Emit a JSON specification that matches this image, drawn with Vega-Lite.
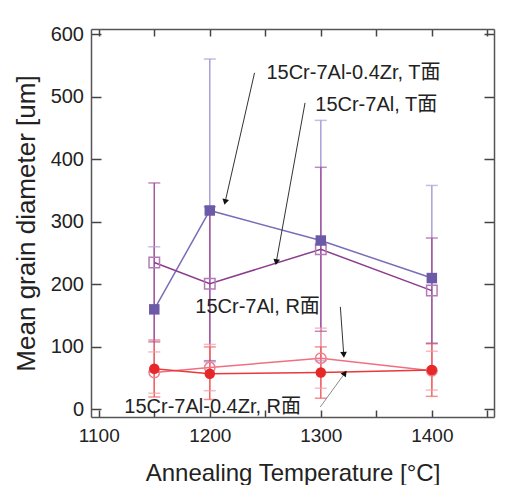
{
  "$schema": "https://vega.github.io/schema/vega-lite/v6.json",
  "width": 403,
  "height": 388,
  "autosize": {"type": "none"},
  "padding": {"left": 91, "top": 29, "right": 34, "bottom": 68},
  "background": "white",
  "config": {
    "view": {"stroke": null},
    "axis": {
      "grid": false,
      "domainColor": "#555555",
      "domainWidth": 1.5,
      "tickColor": "#444444",
      "tickWidth": 1.5,
      "labelFont": "Liberation Sans",
      "labelColor": "#222222",
      "titleFont": "Liberation Sans",
      "titleColor": "#222222",
      "titleFontWeight": "normal"
    }
  },
  "datasets": {
    "pts": [
      {"series": "A", "T": 1150, "mean": 160, "lo": 60, "hi": 260},
      {"series": "A", "T": 1200, "mean": 318, "lo": 76, "hi": 560},
      {"series": "A", "T": 1300, "mean": 270, "lo": 78, "hi": 462},
      {"series": "A", "T": 1400, "mean": 210, "lo": 62, "hi": 358},
      {"series": "B", "T": 1150, "mean": 235, "lo": 108, "hi": 362},
      {"series": "B", "T": 1200, "mean": 201, "lo": 78, "hi": 324},
      {"series": "B", "T": 1300, "mean": 256, "lo": 125, "hi": 387},
      {"series": "B", "T": 1400, "mean": 190, "lo": 106, "hi": 274},
      {"series": "C", "T": 1150, "mean": 59, "lo": 26, "hi": 92},
      {"series": "C", "T": 1200, "mean": 67, "lo": 30, "hi": 104},
      {"series": "C", "T": 1300, "mean": 82, "lo": 34, "hi": 130},
      {"series": "C", "T": 1400, "mean": 62, "lo": 31, "hi": 93},
      {"series": "D", "T": 1150, "mean": 65, "lo": 20, "hi": 111},
      {"series": "D", "T": 1200, "mean": 57, "lo": 16, "hi": 100},
      {"series": "D", "T": 1300, "mean": 59, "lo": 18, "hi": 100},
      {"series": "D", "T": 1400, "mean": 63, "lo": 21, "hi": 105}
    ],
    "notes": [
      {"label": "15Cr-7Al-0.4Zr, T面", "x": 1251, "y": 538},
      {"label": "15Cr-7Al, T面", "x": 1295, "y": 487},
      {"label": "15Cr-7Al, R面", "x": 1187, "y": 163},
      {"label": "15Cr-7Al-0.4Zr, R面", "x": 1123, "y": 4}
    ],
    "arrows": [
      {"id": 1, "x1": 1240.3, "y1": 538, "x2": 1214, "y2": 333},
      {"id": 2, "x1": 1285.8, "y1": 490, "x2": 1260, "y2": 237},
      {"id": 3, "x1": 1317.6, "y1": 164, "x2": 1320.6, "y2": 89},
      {"id": 4, "x1": 1299.5, "y1": 4, "x2": 1321.2, "y2": 57}
    ]
  },
  "resolve": {
    "scale": {"color": "independent"},
    "axis": {"x": "independent", "y": "independent"}
  },
  "layer": [
    {
      "data": {"name": "pts"},
      "mark": {"type": "rule", "strokeWidth": 1.5},
      "encoding": {
        "x": {
          "field": "T", "type": "quantitative",
          "scale": {"domain": [1093, 1456], "nice": false, "zero": false},
          "axis": {
            "orient": "bottom",
            "values": [1100, 1150, 1200, 1250, 1300, 1350, 1400, 1450],
            "format": "d",
            "labelExpr": "datum.value % 100 === 0 ? datum.label : ''",
            "tickSize": -7,
            "labelPadding": 16,
            "labelFontSize": 19,
            "title": "Annealing Temperature [°C]",
            "titleFontSize": 24,
            "titlePadding": 16
          }
        },
        "y": {
          "field": "lo", "type": "quantitative",
          "scale": {"domain": [-12, 608], "nice": false, "zero": false},
          "axis": {
            "orient": "left",
            "values": [0, 100, 200, 300, 400, 500, 600],
            "tickSize": -10,
            "labelPadding": 17.5,
            "labelFontSize": 20,
            "title": "Mean grain diameter [um]",
            "titleFontSize": 26,
            "titlePadding": 11
          }
        },
        "y2": {"field": "hi"},
        "color": {
          "field": "series", "type": "nominal", "legend": null,
          "scale": {"domain": ["A", "B", "C", "D"], "range": ["#aaa0d8", "#a4579f", "#f3a0aa", "#f06464"]}
        }
      }
    },
    {
      "data": {"name": "pts"},
      "mark": {"type": "tick", "orient": "horizontal", "size": 12, "thickness": 1.5},
      "encoding": {
        "x": {"field": "T", "type": "quantitative",
          "axis": {"orient": "top", "values": [1100, 1150, 1200, 1250, 1300, 1350, 1400, 1450], "labels": false, "tickSize": -7, "title": null}},
        "y": {"field": "hi", "type": "quantitative",
          "axis": {"orient": "right", "values": [0, 100, 200, 300, 400, 500, 600], "labels": false, "tickSize": -10, "title": null}},
        "color": {
          "field": "series", "type": "nominal", "legend": null,
          "scale": {"domain": ["A", "B", "C", "D"], "range": ["#aaa0d8", "#a4579f", "#f3a0aa", "#f06464"]}
        }
      }
    },
    {
      "data": {"name": "pts"},
      "mark": {"type": "tick", "orient": "horizontal", "size": 12, "thickness": 1.5},
      "encoding": {
        "x": {"field": "T", "type": "quantitative", "axis": null},
        "y": {"field": "lo", "type": "quantitative", "axis": null},
        "color": {
          "field": "series", "type": "nominal", "legend": null,
          "scale": {"domain": ["A", "B", "C", "D"], "range": ["#aaa0d8", "#a4579f", "#f3a0aa", "#f06464"]}
        }
      }
    },
    {
      "data": {"name": "pts"},
      "mark": {"type": "line", "strokeWidth": 1.5},
      "encoding": {
        "x": {"field": "T", "type": "quantitative", "axis": null},
        "y": {"field": "mean", "type": "quantitative", "axis": null},
        "color": {
          "field": "series", "type": "nominal", "legend": null,
          "scale": {"domain": ["A", "B", "C", "D"], "range": ["#7a6cb8", "#8b3c8c", "#f06f80", "#e83a3a"]}
        }
      }
    },
    {
      "data": {"name": "pts"},
      "transform": [{"filter": "datum.series === 'B' || datum.series === 'C'"}],
      "mark": {"type": "point", "filled": false, "strokeWidth": 1.5, "opacity": 1},
      "encoding": {
        "x": {"field": "T", "type": "quantitative", "axis": null},
        "y": {"field": "mean", "type": "quantitative", "axis": null},
        "shape": {"field": "series", "type": "nominal", "legend": null,
          "scale": {"domain": ["B", "C"], "range": ["square", "circle"]}},
        "size": {"field": "series", "type": "nominal", "legend": null,
          "scale": {"domain": ["B", "C"], "range": [110, 110]}},
        "color": {
          "field": "series", "type": "nominal", "legend": null,
          "scale": {"domain": ["B", "C"], "range": ["#b47ab8", "#f07f8f"]}
        }
      }
    },
    {
      "data": {"name": "pts"},
      "transform": [{"filter": "datum.series === 'A' || datum.series === 'D'"}],
      "mark": {"type": "point", "filled": true, "opacity": 1},
      "encoding": {
        "x": {"field": "T", "type": "quantitative", "axis": null},
        "y": {"field": "mean", "type": "quantitative", "axis": null},
        "shape": {"field": "series", "type": "nominal", "legend": null,
          "scale": {"domain": ["A", "D"], "range": ["square", "circle"]}},
        "size": {"field": "series", "type": "nominal", "legend": null,
          "scale": {"domain": ["A", "D"], "range": [125, 120]}},
        "color": {
          "field": "series", "type": "nominal", "legend": null,
          "scale": {"domain": ["A", "D"], "range": ["#6c5aa6", "#e62828"]}
        }
      }
    },
    {
      "data": {"name": "arrows"},
      "mark": {"type": "rule", "strokeWidth": 1},
      "encoding": {
        "x": {"field": "x1", "type": "quantitative", "axis": null},
        "y": {"field": "y1", "type": "quantitative", "axis": null},
        "x2": {"field": "x2"},
        "y2": {"field": "y2"},
        "color": {"field": "id", "type": "nominal", "legend": null,
          "scale": {"domain": [1, 2, 3, 4], "range": ["#333333", "#333333", "#333333", "#8a8a8a"]}}
      }
    },
    {
      "data": {"name": "arrows"},
      "transform": [{"filter": "datum.id === 1"}],
      "mark": {"type": "point", "shape": "triangle", "filled": true, "size": 45, "angle": 192.8, "color": "#111111", "opacity": 1},
      "encoding": {
        "x": {"field": "x2", "type": "quantitative", "axis": null},
        "y": {"field": "y2", "type": "quantitative", "axis": null}
      }
    },
    {
      "data": {"name": "arrows"},
      "transform": [{"filter": "datum.id === 2"}],
      "mark": {"type": "point", "shape": "triangle", "filled": true, "size": 45, "angle": 190.2, "color": "#111111", "opacity": 1},
      "encoding": {
        "x": {"field": "x2", "type": "quantitative", "axis": null},
        "y": {"field": "y2", "type": "quantitative", "axis": null}
      }
    },
    {
      "data": {"name": "arrows"},
      "transform": [{"filter": "datum.id === 3"}],
      "mark": {"type": "point", "shape": "triangle", "filled": true, "size": 45, "angle": 176, "color": "#111111", "opacity": 1},
      "encoding": {
        "x": {"field": "x2", "type": "quantitative", "axis": null},
        "y": {"field": "y2", "type": "quantitative", "axis": null}
      }
    },
    {
      "data": {"name": "arrows"},
      "transform": [{"filter": "datum.id === 4"}],
      "mark": {"type": "point", "shape": "triangle", "filled": true, "size": 45, "angle": 36.5, "color": "#111111", "opacity": 1},
      "encoding": {
        "x": {"field": "x2", "type": "quantitative", "axis": null},
        "y": {"field": "y2", "type": "quantitative", "axis": null}
      }
    },
    {
      "data": {"name": "notes"},
      "mark": {"type": "text", "align": "left", "baseline": "middle", "fontSize": 20, "font": "Liberation Sans, Noto Sans CJK JP", "color": "#222222"},
      "encoding": {
        "x": {"field": "x", "type": "quantitative", "axis": null},
        "y": {"field": "y", "type": "quantitative", "axis": null},
        "text": {"field": "label"}
      }
    }
  ]
}
